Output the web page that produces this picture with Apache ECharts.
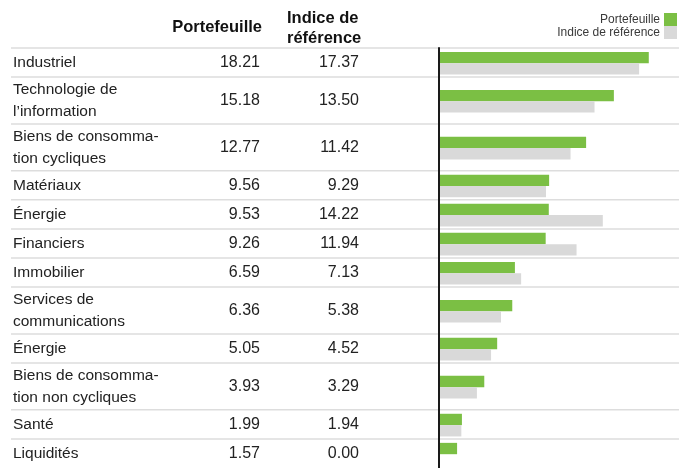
<!DOCTYPE html>
<html>
<head>
<meta charset="utf-8">
<title>Répartition sectorielle</title>
<script src="https://cdn.jsdelivr.net/npm/echarts@6/dist/echarts.min.js"></script>
<style>
	html, body { margin: 0; padding: 0; background: #fff; }
	#chart1 { width: 686px; height: 468px; }
</style>
</head>
<body>
<div id="chart1"></div>
<script>
// données du tableau
var categories = [
	'Industriel',
	'Technologie de\nl\u2019information',
	'Biens de consomma-\ntion cycliques',
	'Matériaux',
	'Énergie',
	'Financiers',
	'Immobilier',
	'Services de\ncommunications',
	'Énergie',
	'Biens de consomma-\ntion non cycliques',
	'Santé',
	'Liquidités'
];
var portefeuille = [18.21, 15.18, 12.77, 9.56, 9.53, 9.26, 6.59, 6.36, 5.05, 3.93, 1.99, 1.57];
var indice = [17.37, 13.50, 11.42, 9.29, 14.22, 11.94, 7.13, 5.38, 4.52, 3.29, 1.94, 0.00];
var seriesNames = ['Portefeuille', 'Indice de référence'];
var headers = ['Portefeuille', 'Indice de\nréférence'];

var FONT = '"Liberation Sans", Arial, sans-serif';

var Sectors = {
	rowTop: [],
	rowHeight: [],
	total: 0,

	init: function () {
		Sectors.initRows();
		Sectors.initChart();
	},

	// hauteur d'une ligne selon le nombre de lignes du libellé
	initRows: function () {
		var acc = 0;
		categories.forEach(function (c) {
			var h = c.indexOf('\n') >= 0 ? 47.5 : 29.5;
			Sectors.rowTop.push(acc);
			Sectors.rowHeight.push(h);
			acc += h;
		});
		Sectors.total = acc;
	},

	renderRow: function (params, api) {
		var i = api.value(0);
		var top = api.coord([0, Sectors.rowTop[i]])[1];
		var mid = api.coord([0, Sectors.rowTop[i] + Sectors.rowHeight[i] / 2])[1];
		return {
			type: 'group',
			children: [
				{
					type: 'line',
					shape: { x1: 11, y1: top, x2: 679, y2: top },
					style: { stroke: '#dddddd', lineWidth: 1.5 }
				},
				{
					type: 'text', x: 13, y: mid,
					style: { text: categories[i], fill: '#222', font: '15.5px ' + FONT, verticalAlign: 'middle', lineHeight: 22 }
				},
				{
					type: 'text', x: 260, y: mid,
					style: { text: portefeuille[i].toFixed(2), fill: '#222', font: '16px ' + FONT, align: 'right', verticalAlign: 'middle' }
				},
				{
					type: 'text', x: 359, y: mid,
					style: { text: indice[i].toFixed(2), fill: '#222', font: '16px ' + FONT, align: 'right', verticalAlign: 'middle' }
				}
			]
		};
	},

	// barre horizontale : 0 = au-dessus du centre, 1 = en dessous
	barRenderer: function (slot) {
		return function (params, api) {
			var v = api.value(0);
			var i = api.value(1);
			var barH = 11.5;
			var center = Sectors.rowTop[i] + Sectors.rowHeight[i] / 2 + 0.75;
			var y0 = slot === 0 ? center - barH : center;
			var p0 = api.coord([0, y0]);
			var p1 = api.coord([v, y0 + barH]);
			return {
				type: 'rect',
				shape: { x: p0[0], y: p0[1], width: p1[0] - p0[0], height: p1[1] - p0[1] },
				style: { fill: api.visual('color') }
			};
		};
	},

	initChart: function () {
		var myChart = echarts.init(document.getElementById('chart1'));
		var option = {
			animation: false,
			textStyle: { fontFamily: FONT },
			grid: { left: 439, top: 48, width: 230.4, height: Sectors.total },
			legend: {
				data: seriesNames,
				orient: 'vertical',
				right: 9,
				top: 13,
				align: 'right',
				icon: 'rect',
				itemWidth: 13,
				itemHeight: 13,
				itemGap: 0,
				padding: 0,
				selectedMode: false,
				textStyle: { fontSize: 12, color: '#3a3a3a', lineHeight: 13, padding: [0, -1, 0, 0] }
			},
			xAxis: { type: 'value', min: 0, max: 20, show: false },
			yAxis: {
				type: 'value',
				inverse: true,
				min: 0,
				max: Sectors.total,
				z: 10,
				axisLine: { show: true, lineStyle: { color: '#1a1a1a', width: 2 } },
				axisTick: { show: false },
				axisLabel: { show: false },
				splitLine: { show: false }
			},
			graphic: [
				{
					type: 'text', x: 262, y: 27,
					style: { text: headers[0], fill: '#111', font: 'bold 16.5px ' + FONT, align: 'right', verticalAlign: 'middle' }
				},
				{
					type: 'text', x: 287, y: 28,
					style: { text: headers[1], fill: '#111', font: 'bold 16.5px ' + FONT, align: 'left', verticalAlign: 'middle', lineHeight: 20 }
				}
			],
			series: [
				{
					name: 'table',
					type: 'custom',
					z: 1,
					renderItem: Sectors.renderRow,
					data: categories.map(function (c, i) { return [i, 0]; })
				},
				{
					name: seriesNames[0],
					type: 'custom',
					itemStyle: { color: '#7bbf44' },
					renderItem: Sectors.barRenderer(0),
					data: portefeuille.map(function (v, i) { return [v, i]; })
				},
				{
					name: seriesNames[1],
					type: 'custom',
					itemStyle: { color: '#d9d9d9' },
					renderItem: Sectors.barRenderer(1),
					data: indice.map(function (v, i) { return [v, i]; })
				}
			]
		};
		window.addEventListener("resize", function () {
			myChart.resize();
		});
		myChart.setOption(option, true);
	}
};

Sectors.init();
</script>
</body>
</html>
